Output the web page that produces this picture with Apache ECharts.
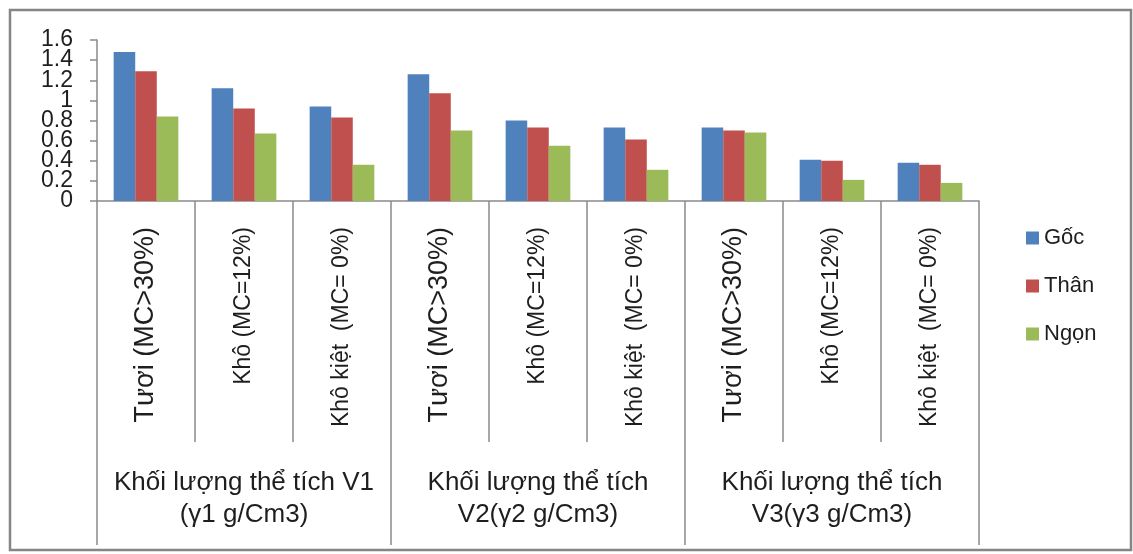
<!DOCTYPE html>
<html>
<head>
<meta charset="utf-8">
<script src="https://cdn.jsdelivr.net/npm/echarts@6/dist/echarts.min.js"></script>
<style>
  html, body { margin: 0; padding: 0; background: #fff; }
  #chart { width: 1133px; height: 554px; }
</style>
</head>
<body>
<div id="chart"></div>
<script>
(function () {
  'use strict';

  // ── Data ──

  var categories = [
    'Tươi (MC>30%)', 'Khô (MC=12%)', 'Khô kiệt  (MC= 0%)',
    'Tươi (MC>30%)', 'Khô (MC=12%)', 'Khô kiệt  (MC= 0%)',
    'Tươi (MC>30%)', 'Khô (MC=12%)', 'Khô kiệt  (MC= 0%)'
  ];
  var groups = [
    'Khối lượng thể tích V1\n(γ1 g/Cm3)',
    'Khối lượng thể tích\nV2(γ2 g/Cm3)',
    'Khối lượng thể tích\nV3(γ3 g/Cm3)'
  ];
  var goc = [1.48, 1.12, 0.94, 1.26, 0.80, 0.73, 0.73, 0.41, 0.38];
  var than = [1.29, 0.92, 0.83, 1.07, 0.73, 0.61, 0.70, 0.40, 0.36];
  var ngon = [0.84, 0.67, 0.36, 0.70, 0.55, 0.31, 0.68, 0.21, 0.18];

  // ── Style ──

  var FONT = '"Liberation Sans", Arial, sans-serif';
  var TEXT = '#1e1e1e';
  var LINE = '#8a8a8a';
  var COLORS = { blue: '#4f81bd', red: '#c0504d', green: '#9bbb59' };

  function catData() {
    return categories.map(function (c) {
      var big = c.indexOf('Tươi') === 0;
      return { value: c, textStyle: { fontSize: big ? 27 : 23 } };
    });
  }

  function barSeries(name, values, color) {
    return {
      name: name,
      type: 'bar',
      data: values,
      barGap: '0%',
      barCategoryGap: '34%',
      itemStyle: { color: color },
      emphasis: { disabled: true }
    };
  }

  // labels are 23px tall on a 20px step, so split them over two stacked
  // axes (even / odd steps) to keep echarts from dropping the crowded ones
  function yAxisFor(parity, showLine) {
    return {
      type: 'value',
      position: 'left',
      min: 0,
      max: 1.6,
      interval: 0.2,
      axisLine: { show: showLine, lineStyle: { color: LINE, width: 1.5 } },
      axisTick: { show: showLine, length: 7, lineStyle: { color: LINE, width: 1.5 } },
      splitLine: { show: false },
      axisLabel: {
        fontSize: 23,
        color: TEXT,
        margin: 24,
        fontFamily: FONT,
        showMinLabel: true,
        showMaxLabel: true,
        formatter: function (v) {
          return Math.round(v / 0.2) % 2 === parity ? String(+v.toFixed(1)) : '';
        }
      }
    };
  }

  var chart = echarts.init(document.getElementById('chart'), null, { renderer: 'canvas' });
  chart.setOption({
    animation: false,
    textStyle: { fontFamily: FONT },
    graphic: [{
      type: 'rect',
      shape: { x: 10, y: 10, width: 1121, height: 540 },
      style: { fill: 'none', stroke: '#858585', lineWidth: 2.5 },
      silent: true
    }],
    grid: { left: 97, right: 154, top: 40, bottom: 353 },
    legend: {
      orient: 'vertical',
      left: 1021,
      top: 222,
      itemWidth: 13,
      itemHeight: 13,
      itemGap: 26,
      icon: 'rect',
      textStyle: { fontSize: 22, color: TEXT, fontFamily: FONT },
      data: ['Gốc', 'Thân', 'Ngọn']
    },
    xAxis: [{
      type: 'category',
      data: catData(),
      axisLine: { lineStyle: { color: LINE, width: 1.5 } },
      axisTick: { show: true, interval: 0, length: 241, lineStyle: { color: LINE, width: 1.5 } },
      axisLabel: {
        interval: 0,
        rotate: 90,
        margin: 26,
        color: TEXT,
        fontFamily: FONT
      }
    }, {
      type: 'category',
      data: groups,
      position: 'bottom',
      axisLine: { show: false },
      axisTick: { show: true, interval: 0, length: 344, lineStyle: { color: LINE, width: 1.5 } },
      axisLabel: {
        interval: 0,
        margin: 266,
        fontSize: 26,
        lineHeight: 32,
        color: TEXT,
        fontFamily: FONT
      }
    }],
    yAxis: [yAxisFor(0, true), yAxisFor(1, false)],
    series: [
      barSeries('Gốc', goc, COLORS.blue),
      barSeries('Thân', than, COLORS.red),
      barSeries('Ngọn', ngon, COLORS.green)
    ]
  });
})();
</script>
</body>
</html>
